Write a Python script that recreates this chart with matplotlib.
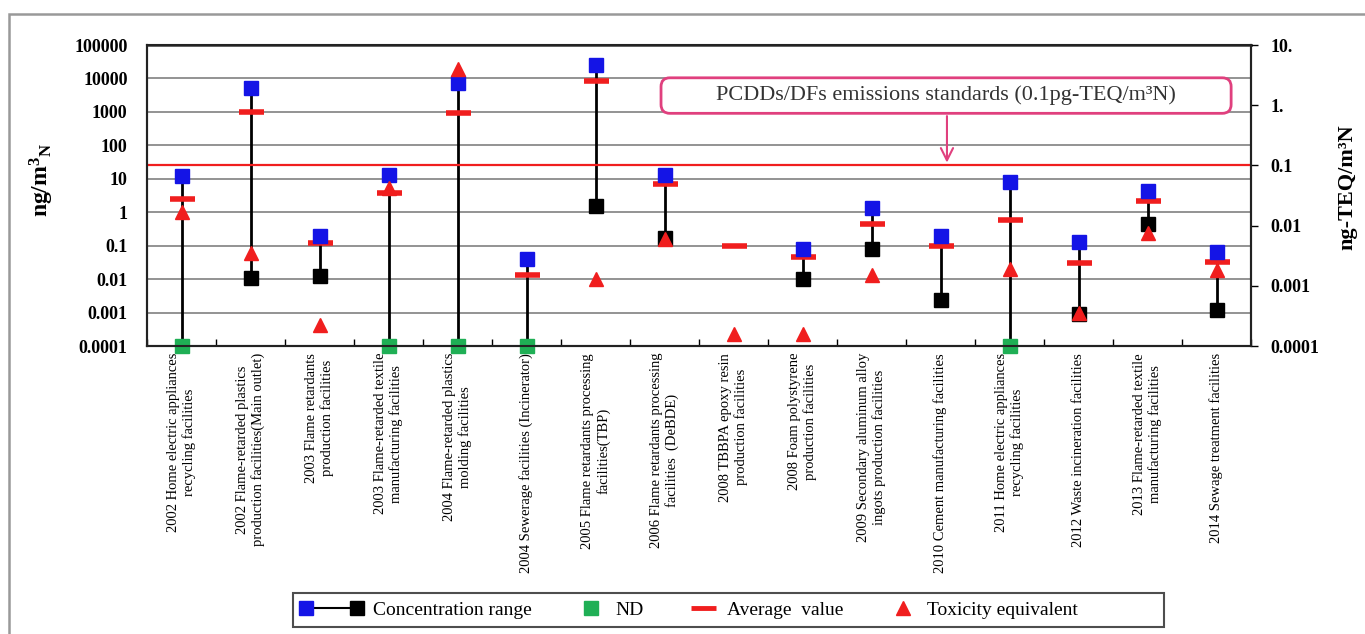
import numpy as np
import matplotlib
matplotlib.use('Agg')
import matplotlib.pyplot as plt
from matplotlib.lines import Line2D
from matplotlib.patches import FancyBboxPatch, Rectangle
from matplotlib.legend_handler import HandlerBase
from matplotlib.ticker import FixedLocator, FixedFormatter, NullLocator

# ---------------- data ----------------
categories = [
    "2002 Home electric appliances\nrecycling facilities",
    "2002 Flame-retarded plastics\nproduction facilities(Main outlet)",
    "2003 Flame retardants\nproduction facilities",
    "2003 Flame-retarded textile\nmanufacturing facilities",
    "2004 Flame-retarded plastics\nmolding facilities",
    "2004 Sewerage facilities (Incinerator)",
    "2005 Flame retardants processing\nfacilities(TBP)",
    "2006 Flame retardants processing\nfacilities  (DeBDE)",
    "2008 TBBPA epoxy resin\nproduction facilities",
    "2008 Foam polystyrene\nproduction facilities",
    "2009 Secondary aluminum alloy\ningots production facilities",
    "2010 Cement manufacturing facilities",
    "2011 Home electric appliances\nrecycling facilities",
    "2012 Waste incineration facilities",
    "2013 Flame-retarded textile\nmanufacturing facilities",
    "2014 Sewage treatment facilities",
]
nan = np.nan
# concentration (ng/m3N)
conc_max = [12.4, 5100, 0.19, 13, 7200, 0.039, 25000, 13, nan, 0.079, 1.37, 0.19, 7.9, 0.13, 4.4, 0.063]
conc_min = [nan, 0.0105, 0.012, nan, nan, nan, 1.5, 0.165, nan, 0.0098, 0.082, 0.0024, nan, 0.00091, 0.44, 0.0012]
nd_flag = [True, False, False, True, True, True, False, False, False, False, False, False, True, False, False, False]
average = [2.5, 1000, 0.12, 3.7, 910, 0.013, 8600, 6.9, 0.10, 0.046, 0.46, 0.098, 0.59, 0.030, 2.2, 0.033]
# toxicity equivalent (ng-TEQ/m3N)
toxicity = [0.017, 0.0035, 0.00022, 0.042, 4.0, nan, 0.0013, 0.0059, 0.00016, 0.00016, 0.0015, nan, 0.0019, 0.00036, 0.0074, 0.0018]
nd_level = 1e-4
standard_teq = 0.1

left_ticks = [1e-4, 1e-3, 1e-2, 1e-1, 1, 10, 100, 1000, 1e4, 1e5]
left_labels = ["0.0001", "0.001", "0.01", "0.1", "1", "10", "100", "1000", "10000", "100000"]
right_ticks = [1e-4, 1e-3, 1e-2, 1e-1, 1, 10]
right_labels = ["0.0001", "0.001", "0.01", "0.1", "1.", "10."]
legend_labels = ["Concentration range", "ND", "Average  value", "Toxicity equivalent"]

# ---------------- style ----------------
SERIF = ["Liberation Serif", "DejaVu Serif"]
plt.rcParams['font.family'] = SERIF
plt.rcParams['mathtext.fontset'] = 'custom'
plt.rcParams['mathtext.rm'] = 'Liberation Serif'
plt.rcParams['mathtext.it'] = 'Liberation Serif:italic'
plt.rcParams['mathtext.bf'] = 'Liberation Serif:bold'
BLUE = "#1414E6"
BLACK = "#000000"
GREEN = "#1FAF55"
RED = "#F01E1E"
PINK = "#E0407E"
W, H = 1365, 634

fig = plt.figure(figsize=(W / 100, H / 100), dpi=100)
ax = fig.add_axes([147 / W, 1 - 346 / H, (1251 - 147) / W, (346 - 45) / H])
ax2 = ax.twinx()

n = len(categories)
x = np.arange(n)
ax.set_xlim(-0.5, n - 0.5)
ax.set_yscale('log')
ax.set_ylim(1e-4, 1e5)
ax2.set_yscale('log')
ax2.set_ylim(1e-4, 10)

cmax = np.array(conc_max, float)
cmin = np.array(conc_min, float)
nd = np.array(nd_flag)
avg = np.array(average, float)
tox = np.array(toxicity, float)

low = np.where(nd, nd_level, cmin)
has = ~np.isnan(cmax)
ax.vlines(x[has], low[has], cmax[has], color=BLACK, lw=2, zorder=3)
ax.plot(x, avg, ls='none', marker='_', ms=18, mew=4, color=RED, zorder=4)
ax.plot(x, cmin, ls='none', marker='s', ms=10, color=BLACK, zorder=5)
ax.plot(x, cmax, ls='none', marker='s', ms=10, color=BLUE, zorder=5)
ax.plot(x[nd], np.full(nd.sum(), nd_level), ls='none', marker='s', ms=10, color=GREEN,
        zorder=6, clip_on=False)
ax2.plot(x, tox, ls='none', marker='^', ms=10, color=RED, zorder=6, clip_on=False)

# emission standard
ax2.axhline(standard_teq, color=RED, lw=1.6, zorder=2)

# grid / ticks
ax.yaxis.set_major_locator(FixedLocator(left_ticks))
ax.yaxis.set_major_formatter(FixedFormatter(left_labels))
ax.yaxis.set_minor_locator(NullLocator())
ax.grid(axis='y', which='major', color='#8a8a8a', lw=1.3, zorder=0)
ax.tick_params(axis='y', which='both', length=0, pad=14, labelsize=13)
for lab in ax.get_yticklabels():
    lab.set_fontweight('bold')

ax2.yaxis.set_major_locator(FixedLocator(right_ticks))
ax2.yaxis.set_major_formatter(FixedFormatter(right_labels))
ax2.yaxis.set_minor_locator(NullLocator())
ax2.tick_params(axis='y', which='major', length=5, width=1, direction='out', pad=9, labelsize=13)
for lab in ax2.get_yticklabels():
    lab.set_fontweight('bold')

ax.set_xticks(x)
ax.set_xticklabels(categories, rotation=90, fontsize=10.5, multialignment='center')
ax.set_xticks(np.arange(n + 1) - 0.5, minor=True)
ax.tick_params(axis='x', which='major', length=0, pad=5)
ax.tick_params(axis='x', which='minor', length=5, direction='in', width=1)

for a in (ax, ax2):
    for s in a.spines.values():
        s.set_linewidth(1.5)
        s.set_color('#222222')
ax.spines['top'].set_color('#555555')
ax.spines['top'].set_linewidth(2)

# axis titles
fig.text(42 / W, 1 - 180 / H, r"$\mathbf{ng/m^3{}_N}$", rotation=90, ha='center', va='center',
         fontsize=17)
fig.text(1347 / W, 1 - 187 / H, "ng-TEQ/m\u00b3N", rotation=90, ha='center', va='center',
         fontsize=16, fontweight='bold')

# annotation box and arrow
ax_w, ax_h = 1104, 301
box = FancyBboxPatch((0.4656, 0.773), 0.982 - 0.4656, 0.891 - 0.773,
                     boxstyle="round,pad=0,rounding_size=0.008", transform=ax2.transAxes,
                     fc='white', ec=PINK, lw=2, zorder=7, mutation_aspect=ax_w / ax_h)
ax2.add_patch(box)
ax2.text((0.4656 + 0.982) / 2, (0.773 + 0.891) / 2,
         "PCDDs/DFs emissions standards (0.1pg-TEQ/m\u00b3N)", transform=ax2.transAxes,
         ha='center', va='center', fontsize=16, color='#333333', zorder=8)
ax2.annotate("", xy=(0.7246, 0.60), xycoords='axes fraction',
             xytext=(0.7246, 0.773), textcoords='axes fraction',
             arrowprops=dict(arrowstyle='->', color=PINK, lw=1.5, mutation_scale=22), zorder=8)

# outer frame
fig.add_artist(Rectangle((9 / W, -0.1), 1.2, 1 - 14 / H + 0.1, transform=fig.transFigure,
                         fill=False, ec='#999999', lw=1.8))


# ---------------- legend ----------------
class HandlerRange(HandlerBase):
    def create_artists(self, legend, orig_handle, xdescent, ydescent, width, height, fontsize, trans):
        y = height / 2 - ydescent
        x0, x1 = -xdescent + 4, width - xdescent - 4
        ln = Line2D([x0, x1], [y, y], color=BLACK, lw=1.5, transform=trans)
        m1 = Line2D([x0], [y], marker='s', ms=10, color=BLUE, ls='none', transform=trans)
        m2 = Line2D([x1], [y], marker='s', ms=10, color=BLACK, ls='none', transform=trans)
        return [ln, m1, m2]


class HandlerSingle(HandlerBase):
    def __init__(self, marker, color, ms, mew=1, **kw):
        super().__init__(**kw)
        self.marker, self.color, self.ms, self.mew = marker, color, ms, mew

    def create_artists(self, legend, orig_handle, xdescent, ydescent, width, height, fontsize, trans):
        y = height / 2 - ydescent
        xc = width - xdescent - 10
        m = Line2D([xc], [y], marker=self.marker, ms=self.ms, mew=self.mew, color=self.color,
                   ls='none', transform=trans)
        return [m]


class _H:
    pass


hr, hn, ha_, ht = _H(), _H(), _H(), _H()
leg = fig.legend([hr, hn, ha_, ht],
                 [legend_labels[0], legend_labels[1], legend_labels[2],
                  legend_labels[3] + "\u2003\u2003\u2003\u2003"],
                 handler_map={hr: HandlerRange(),
                              hn: HandlerSingle('s', GREEN, 10),
                              ha_: HandlerSingle('_', RED, 18, 3.5),
                              ht: HandlerSingle('^', RED, 10)},
                 ncol=4, loc='center left', bbox_to_anchor=(293 / W, 1 - 610 / H),
                 frameon=True, fancybox=False, edgecolor='#222222',
                 fontsize=14, handlelength=3.2, handletextpad=0.5, columnspacing=0.6,
                 borderpad=0.4, borderaxespad=0)
leg.get_frame().set_linewidth(1.5)

fig.savefig("out.png", dpi=100)
